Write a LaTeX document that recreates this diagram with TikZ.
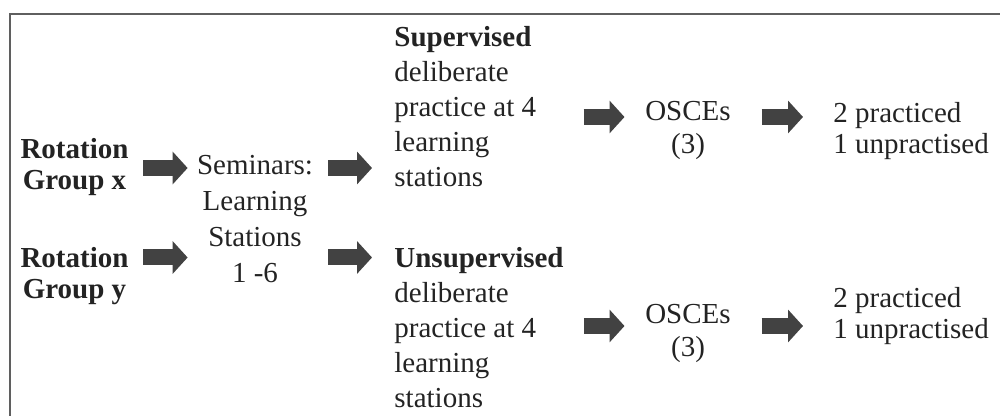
\documentclass[tikz,border=0pt]{standalone}
\usepackage{fontspec}
\setmainfont{Liberation Serif}
\usepackage{tikz}
\usetikzlibrary{arrows.meta, positioning}
\definecolor{textgray}{RGB}{35,35,35}
\definecolor{arrowgray}{RGB}{66,66,66}
\definecolor{framegray}{RGB}{95,95,95}
\tikzset{
  basebox/.style={inner sep=0pt,text=textgray,font=\fontsize{14.5}{17.5}\selectfont},
  groupnode/.style={basebox,align=center,font=\fontsize{14.5}{15.5}\selectfont\bfseries},
  seminode/.style={basebox,align=center,font=\fontsize{14.5}{18}\selectfont},
  practnode/.style={basebox,align=left,anchor=west},
  oscenode/.style={basebox,align=center,font=\fontsize{14.5}{16.5}\selectfont},
  resnode/.style={basebox,align=left,anchor=west,font=\fontsize{14.5}{15.5}\selectfont},
  blockarr/.style={-{Triangle[length=7.5pt,width=16pt]},line width=8pt,color=arrowgray},
  framebox/.style={line width=1pt,draw=framegray}
}

\begin{document}
\begin{tikzpicture}[x=0.5pt,y=-0.5pt]
  \clip (0,0) rectangle (1000,416);
  \draw[framebox] (10,430) -- (10,14) -- (1010,14);

  %% rows of the block arrows
  \coordinate (rowA) at (0,168);
  \coordinate (rowB) at (0,257.5);
  \coordinate (rowC) at (0,117);
  \coordinate (rowD) at (0,326);

  %% Rotation groups
  \node[groupnode] (gx) at (74.5,167) {Rotation\\Group x};
  \node[groupnode] (gy) at (74.5,276) {Rotation\\Group y};

  %% Seminars
  \node[seminode] (sem) at (255,219) {Seminars:\\Learning\\Stations\\1 -6};

  %% practice blocks
  \node[practnode] (sup) at (394,106.5)
    {\textbf{Supervised}\\deliberate\\practice at 4\\learning\\stations};
  \node[practnode] (unsup) at (394,328)
    {\textbf{Unsupervised}\\deliberate\\practice at 4\\learning\\stations};

  %% OSCEs
  \node[oscenode] (osce1) at (688,130) {OSCEs\\(3)};
  \node[oscenode] (osce2) at (688,333) {OSCEs\\(3)};

  %% results
  \node[resnode] (res1) at (833,131.5) {2 practiced\\1 unpractised};
  \node[resnode] (res2) at (833,316.5) {2 practiced\\1 unpractised};

  \draw[blockarr,shorten <=7.25pt,shorten >=4.5pt] (gx.east |- rowA) -- (sem.west |- rowA);
  \draw[blockarr,shorten <=7.25pt,shorten >=4.5pt] (gy.east |- rowB) -- (sem.west |- rowB);
  \draw[blockarr,shorten <=7.5pt,shorten >=11pt] (sem.east |- rowA) -- (sup.west |- rowA);
  \draw[blockarr,shorten <=7.5pt,shorten >=11pt] (sem.east |- rowB) -- (unsup.west |- rowB);
  \draw[blockarr,shorten <=23.6pt,shorten >=10.2pt] (sup.east |- rowC) -- (osce1.west |- rowC);
  \draw[blockarr,shorten <=9.9pt,shorten >=10.2pt] (unsup.east |- rowD) -- (osce2.west |- rowD);
  \draw[blockarr,shorten <=15.2pt,shorten >=15pt] (osce1.east |- rowC) -- (res1.west |- rowC);
  \draw[blockarr,shorten <=15.2pt,shorten >=15pt] (osce2.east |- rowD) -- (res2.west |- rowD);
\end{tikzpicture}
\end{document}
